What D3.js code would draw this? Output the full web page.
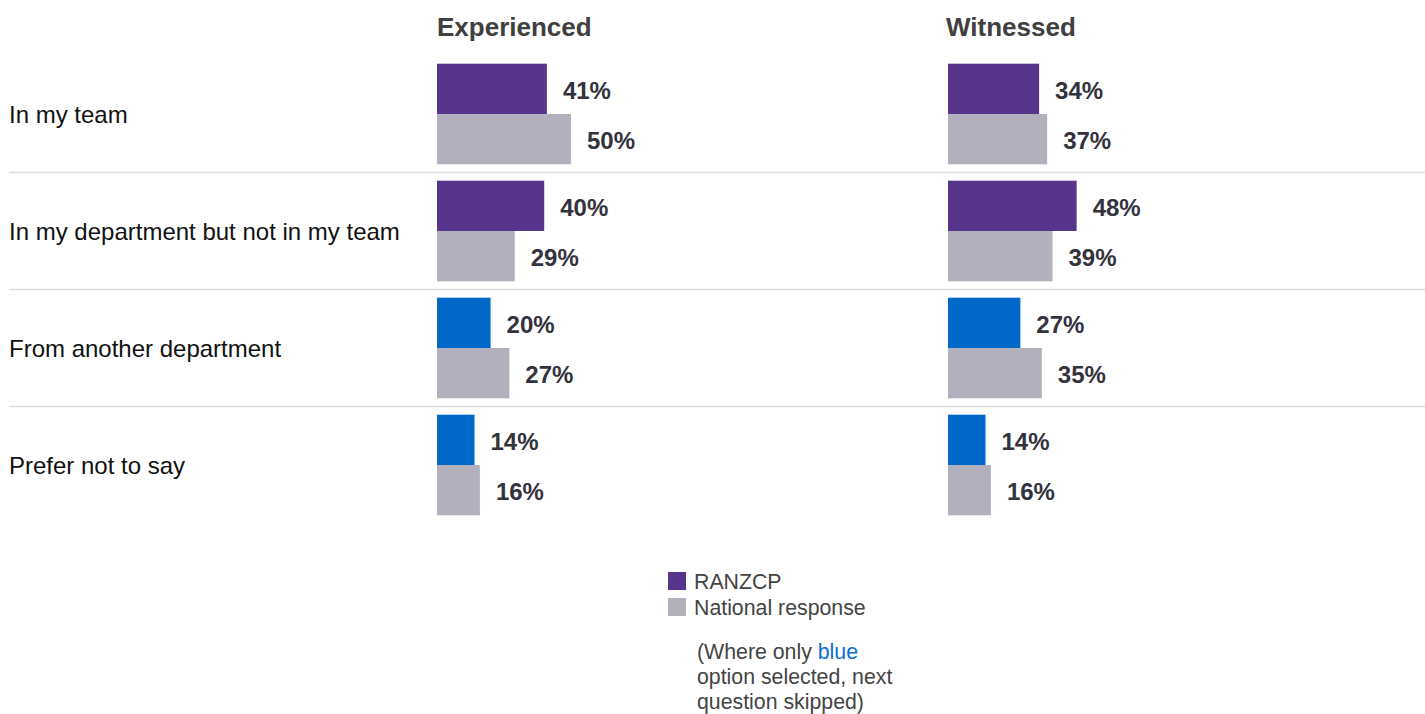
<!DOCTYPE html>
<html>
<head>
<meta charset="utf-8">
<script src="https://cdn.jsdelivr.net/npm/d3@7"></script>
<style>
  html, body { margin: 0; padding: 0; background: #fff; }
  svg { display: block; font-family: "Liberation Sans", Arial, sans-serif; }
</style>
</head>
<body>
<svg id="chart" width="1425" height="714"></svg>
<script>
// Where the harassment/bullying came from
const categories = ["In my team", "In my department but not in my team", "From another department", "Prefer not to say"];
const panels = ["Experienced", "Witnessed"];
const series = ["RANZCP", "National response"];

// Percent values per panel, one entry per category
const experiencedRanzcp = [41, 40, 20, 14];
const experiencedNational = [50, 29, 27, 16];
const witnessedRanzcp = [34, 48, 27, 14];
const witnessedNational = [37, 39, 35, 16];

// Rows whose answer skips the follow-up question are shown in blue
const skipsNextQuestion = [false, false, true, true];

const colors = { purple: "#58358c", blue: "#0068c9", gray: "#b1b0bc" };

const panelData = [
  { name: panels[0], ranzcp: experiencedRanzcp, national: experiencedNational, x0: 437, titleX: 437 },
  { name: panels[1], ranzcp: witnessedRanzcp, national: witnessedNational, x0: 948, titleX: 946 }
];

const svg = d3.select("#chart");

const y = d3.scaleBand()
  .domain(categories)
  .range([55.5, 523.5])
  .paddingInner(0.14)
  .paddingOuter(0.07);

const ySub = d3.scaleBand()
  .domain(series)
  .range([0, y.bandwidth()])
  .paddingInner(0);

// Row separators
const step = y.step();
svg.append("g").selectAll("line")
  .data(categories.slice(1))
  .join("line")
  .attr("x1", 9).attr("x2", 1425)
  .attr("y1", d => Math.round(y(d) - y.paddingInner() * step / 2) - 0.5)
  .attr("y2", d => Math.round(y(d) - y.paddingInner() * step / 2) - 0.5)
  .attr("stroke", "#dcdcdc")
  .attr("stroke-width", 1.5);

// Category labels
svg.append("g").selectAll("text")
  .data(categories)
  .join("text")
  .attr("x", 9)
  .attr("y", d => y(d) + y.bandwidth() / 2 + 1)
  .attr("dy", "0.35em")
  .attr("font-size", "24px")
  .attr("fill", "#111")
  .text(d => d);

panelData.forEach(p => {
  const x = d3.scaleLinear().domain([0, 100]).range([p.x0, p.x0 + 268]);
  const g = svg.append("g");

  g.append("text")
    .attr("x", p.titleX)
    .attr("y", 27)
    .attr("dy", "0.35em")
    .attr("font-size", "26px")
    .attr("font-weight", "bold")
    .attr("fill", "#404040")
    .text(p.name);

  const rows = categories.map((c, i) => [
    { cat: c, s: series[0], v: p.ranzcp[i], color: skipsNextQuestion[i] ? colors.blue : colors.purple },
    { cat: c, s: series[1], v: p.national[i], color: colors.gray }
  ]).flat();

  g.selectAll("rect")
    .data(rows)
    .join("rect")
    .attr("x", x(0))
    .attr("y", d => y(d.cat) + ySub(d.s))
    .attr("width", d => x(d.v) - x(0))
    .attr("height", ySub.bandwidth())
    .attr("fill", d => d.color);

  g.selectAll("text.val")
    .data(rows)
    .join("text")
    .attr("class", "val")
    .attr("x", d => x(d.v) + 16)
    .attr("y", d => y(d.cat) + ySub(d.s) + ySub.bandwidth() / 2 + 1.5)
    .attr("dy", "0.35em")
    .attr("font-size", "24px")
    .attr("font-weight", "bold")
    .attr("fill", "#33323d")
    .text(d => d.v + "%");
});

// Legend
const legend = svg.append("g").attr("transform", "translate(668,572)");
const legendItems = [
  { label: series[0], color: colors.purple },
  { label: series[1], color: colors.gray }
];
legend.selectAll("rect")
  .data(legendItems)
  .join("rect")
  .attr("x", 0)
  .attr("y", (d, i) => i * 26)
  .attr("width", 18)
  .attr("height", 18)
  .attr("fill", d => d.color);
legend.selectAll("text")
  .data(legendItems)
  .join("text")
  .attr("x", 26)
  .attr("y", (d, i) => i * 26 + 9.5)
  .attr("dy", "0.35em")
  .attr("font-size", "21.3px")
  .attr("fill", "#444")
  .text(d => d.label);

// Note about the blue options
const note = svg.append("text")
  .attr("x", 697)
  .attr("font-size", "21.3px")
  .attr("fill", "#444");
const l1 = note.append("tspan").attr("x", 697).attr("y", 651.5).attr("dy", "0.35em");
l1.append("tspan").text("(Where only ");
l1.append("tspan").attr("fill", "#0a6fd6").text("blue");
note.append("tspan").attr("x", 697).attr("y", 677).attr("dy", "0.35em").text("option selected, next");
note.append("tspan").attr("x", 697).attr("y", 702).attr("dy", "0.35em").text("question skipped)");
</script>
</body>
</html>
